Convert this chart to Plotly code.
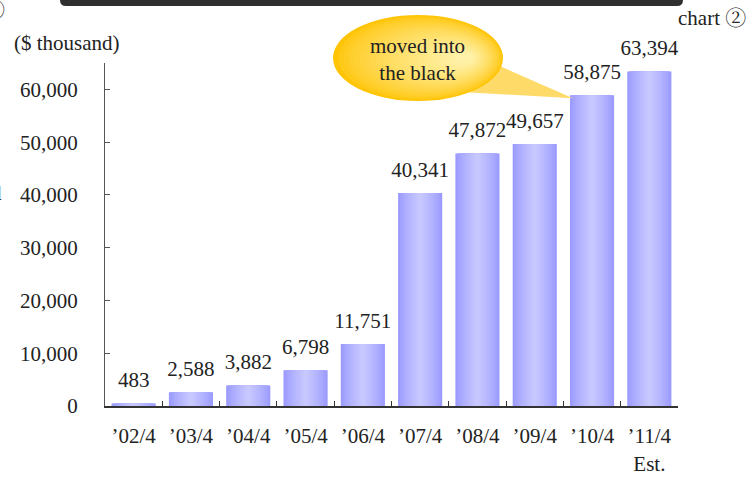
import plotly.graph_objects as go

# Sales by fiscal period ($ thousand)
periods = ["’02/4", "’03/4", "’04/4", "’05/4", "’06/4",
           "’07/4", "’08/4", "’09/4", "’10/4", "’11/4<br>Est."]
sales = [483, 2588, 3882, 6798, 11751, 40341, 47872, 49657, 58875, 63394]
y_tick_vals = [0, 10000, 20000, 30000, 40000, 50000, 60000]
y_tick_text = ["0", "10,000", "20,000", "30,000", "40,000", "50,000", "60,000"]

W, H = 753, 477
ML, MR, MT, MB = 105, 75, 63, 71
PW, PH = W - ML - MR, H - MT - MB
Y_MAX = 65000

SERIF = "Liberation Serif, Noto Serif CJK JP, Noto Sans CJK JP, serif"
INK = "#222222"
FS = 21


def px_x(v):
    return (v - ML) / PW


def px_y(v):
    return (H - MB - v) / PH


def lerp(a, b, t):
    return a + (b - a) * t


def mix(c1, c2, t):
    return "rgb({},{},{})".format(*[round(lerp(a, b, t)) for a, b in zip(c1, c2)])


fig = go.Figure()

# Bars with a horizontal light-in-the-middle shading: overlaid bars of shrinking width
BAR_W = 0.77
EDGE = (154, 154, 255)
CENTER = (200, 200, 255)
N = 14
for k in range(N):
    t = k / (N - 1)
    fig.add_trace(go.Bar(
        x=periods, y=sales,
        width=BAR_W * (1 - k / N),
        marker=dict(color=mix(EDGE, CENTER, t ** 0.8), line=dict(width=0)),
        hoverinfo="skip" if k else None,
        showlegend=False,
    ))

# Value labels above each bar
fig.add_trace(go.Scatter(
    x=periods, y=sales,
    mode="markers+text",
    marker=dict(size=16, opacity=0),
    text=[f"{v:,}" for v in sales],
    textposition="top center",
    textfont=dict(family=SERIF, size=FS, color=INK),
    cliponaxis=False,
    hoverinfo="skip",
    showlegend=False,
))

shapes = []

# Dark header strip along the top edge
shapes.append(dict(
    type="path", xref="paper", yref="paper",
    path=(f"M {px_x(60)},{px_y(-2)} L {px_x(683)},{px_y(-2)} "
          f"L {px_x(683)},{px_y(0)} Q {px_x(683)},{px_y(6)} {px_x(677)},{px_y(6)} "
          f"L {px_x(66)},{px_y(6)} Q {px_x(60)},{px_y(6)} {px_x(60)},{px_y(0)} Z"),
    fillcolor="#2f2f2f", line=dict(width=0), layer="above",
))

# Speech-bubble callout pointing at the '10/4 bar
GOLD = (255, 196, 6)
PALE = (255, 242, 172)
ecx, ecy, erx, ery = 418, 58, 85, 43
hcx, hcy = 466, 58
M = 24

tip_cat = 8 - BAR_W / 2  # left top corner of the '10/4 bar
tip_px = ML + (tip_cat + 0.5) * PW / 10 + 3
tip_py = H - MB - sales[8] / Y_MAX * PH + 3
shapes.append(dict(
    type="path", xref="paper", yref="paper",
    path=(f"M {px_x(486)},{px_y(60)} "
          f"L {px_x(tip_px)},{px_y(tip_py)} "
          f"L {px_x(462)},{px_y(92)} Z"),
    fillcolor="#fedb68", line=dict(width=0), layer="above",
))
for k in range(M):
    t = k / M
    cx = lerp(ecx, hcx, t)
    cy = lerp(ecy, hcy, t)
    rx = lerp(erx, 6, t)
    ry = lerp(ery, 4, t)
    shapes.append(dict(
        type="circle", xref="paper", yref="paper",
        x0=px_x(cx - rx), x1=px_x(cx + rx),
        y0=px_y(cy + ry), y1=px_y(cy - ry),
        fillcolor=mix(GOLD, PALE, t ** 0.7), line=dict(width=0), layer="above",
    ))

annotations = [
    dict(text="moved into<br>the black", xref="paper", yref="paper",
         x=px_x(417), y=px_y(59), xanchor="center", yanchor="middle",
         showarrow=False, font=dict(family=SERIF, size=FS, color=INK), align="center"),
    dict(text="chart ②", xref="paper", yref="paper",
         x=px_x(748), y=px_y(18), xanchor="right", yanchor="middle", showarrow=False,
         font=dict(family=SERIF, size=FS, color=INK)),
    dict(text="($ thousand)", xref="paper", yref="paper",
         x=px_x(12), y=px_y(43), xanchor="left", yanchor="middle", showarrow=False,
         font=dict(family=SERIF, size=FS, color=INK)),
    dict(text="②", xref="paper", yref="paper",
         x=px_x(7), y=px_y(10), xanchor="right", yanchor="middle", showarrow=False,
         font=dict(family=SERIF, size=FS, color=INK)),
    dict(text="d", xref="paper", yref="paper",
         x=px_x(4), y=px_y(193), xanchor="right", yanchor="middle", showarrow=False,
         font=dict(family=SERIF, size=FS, color=INK)),
]

fig.update_layout(
    width=W, height=H,
    margin=dict(l=ML, r=MR, t=MT, b=MB, pad=0, autoexpand=False),
    paper_bgcolor="white", plot_bgcolor="white",
    barmode="overlay",
    shapes=shapes,
    annotations=annotations,
    font=dict(family=SERIF, size=FS, color=INK),
)

fig.update_xaxes(
    type="category", range=[-0.5, 9.5], automargin=False,
    showline=True, linecolor="#333333", linewidth=2,
    ticks="inside", tickson="boundaries", ticklen=5, tickcolor="#333333",
    tickfont=dict(family=SERIF, size=FS, color=INK),
    ticklabelstandoff=10,
    showgrid=False, zeroline=False,
)
fig.update_yaxes(
    range=[0, Y_MAX], automargin=False,
    tickvals=y_tick_vals, ticktext=y_tick_text,
    showline=True, linecolor="#555555", linewidth=1,
    ticks="inside", ticklen=5, tickcolor="#555555",
    tickfont=dict(family=SERIF, size=FS, color=INK),
    ticklabelstandoff=22,
    showgrid=False, zeroline=False,
)

fig.write_html("out.html")
